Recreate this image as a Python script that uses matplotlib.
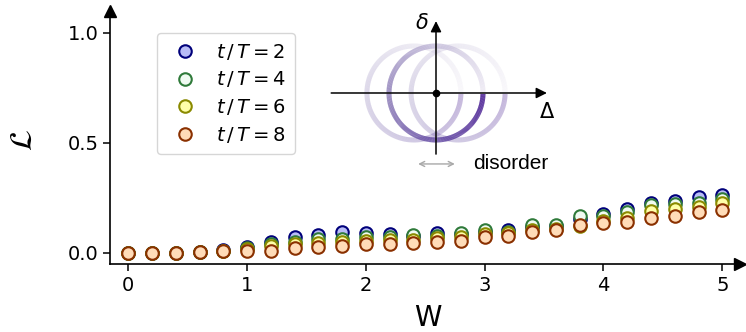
import numpy as np
import matplotlib
matplotlib.use("Agg")
import matplotlib.pyplot as plt
from matplotlib.collections import LineCollection
from matplotlib.colors import LinearSegmentedColormap

# disorder strength W and loss L for four evolution times
W = [0.0, 0.2, 0.4, 0.6, 0.8, 1.0, 1.2, 1.4, 1.6, 1.8, 2.0, 2.2, 2.4,
     2.6, 2.8, 3.0, 3.2, 3.4, 3.6, 3.8, 4.0, 4.2, 4.4, 4.6, 4.8, 5.0]
L_t2 = [0.0, 0.0, 0.0, 0.003, 0.013, 0.027, 0.048, 0.072, 0.080, 0.095, 0.088, 0.084, 0.075,
        0.088, 0.085, 0.095, 0.104, 0.115, 0.120, 0.155, 0.178, 0.198, 0.227, 0.235, 0.255, 0.262]
L_t4 = [0.0, 0.0, 0.0, 0.002, 0.010, 0.020, 0.038, 0.050, 0.061, 0.062, 0.073, 0.073, 0.080,
        0.078, 0.088, 0.103, 0.095, 0.126, 0.126, 0.166, 0.167, 0.184, 0.217, 0.220, 0.227, 0.243]
L_t6 = [0.0, 0.0, 0.0, 0.002, 0.008, 0.015, 0.030, 0.040, 0.045, 0.050, 0.055, 0.058, 0.060,
        0.065, 0.070, 0.085, 0.090, 0.105, 0.110, 0.120, 0.145, 0.160, 0.190, 0.200, 0.210, 0.224]
L_t8 = [0.0, 0.0, 0.0, 0.003, 0.008, 0.008, 0.010, 0.020, 0.025, 0.030, 0.040, 0.040, 0.046,
        0.050, 0.055, 0.070, 0.076, 0.093, 0.102, 0.125, 0.134, 0.140, 0.160, 0.167, 0.185, 0.195]

series = [L_t2, L_t4, L_t6, L_t8]
labels = [r"$t\,/\,T = 2$", r"$t\,/\,T = 4$", r"$t\,/\,T = 6$", r"$t\,/\,T = 8$"]
faces = ["#b8bcf6", "#f0fbf2", "#ffffa8", "#ffdcb8"]
edges = ["#00007a", "#2f7a3a", "#8a8a00", "#8a3000"]

xticks = [0, 1, 2, 3, 4, 5]
yticks = [0.0, 0.5, 1.0]
ytick_labels = ["0.0", "0.5", "1.0"]

fig = plt.figure(figsize=(7.46, 3.32), dpi=100)
ax = fig.add_axes([0.1481, 0.2057, 0.8440, 0.7621])

for vals, lab, fc, ec in zip(series, labels, faces, edges):
    ax.plot(W, vals, "o", ms=9, mfc=fc, mec=ec, mew=1.5, label=lab, clip_on=False)

ax.set_xlim(-0.15, 5.15)
ax.set_ylim(-0.05, 1.1)
ax.set_xticks(xticks)
ax.set_yticks(yticks)
ax.set_yticklabels(ytick_labels)
ax.tick_params(labelsize=14, length=5, width=1.1)
for s in ("top", "right"):
    ax.spines[s].set_visible(False)
for s in ("left", "bottom"):
    ax.spines[s].set_linewidth(1.2)

# arrowheads at the ends of the axes
ax.plot(1, 0, ">k", ms=8.5, transform=ax.transAxes, clip_on=False)
ax.plot(0, 1, "^k", ms=8.5, transform=ax.transAxes, clip_on=False)

ax.set_xlabel("W", fontsize=20)
ax.xaxis.set_label_coords(0.504, -0.16)
fig.text(23.5 / 746, 1 - 140 / 332, r"$\mathcal{L}$", fontsize=22,
         rotation=90, ha="center", va="center")

ax.legend(loc="upper left", bbox_to_anchor=(0.074, 0.912), borderaxespad=0,
          fontsize=14, handletextpad=0.6, labelspacing=0.4, borderpad=0.45)

# sketch: circular drive path in the (Delta, delta) plane, shifted by disorder
ins = fig.add_axes([325 / 746, 1 - 175 / 332, 240 / 746, 165 / 332])
ins.set_xlim(-2.362, 2.745)
ins.set_ylim(-1.745, 1.766)
ins.axis("off")

cmap = LinearSegmentedColormap.from_list(
    "drive", ["#eeeaf4", "#c4bcda", "#8a7ab6", "#5e44a0", "#3a0a8a"])
theta = np.linspace(0.02, 2 * np.pi - 0.02, 400)
frac = (theta[:-1] + theta[1:]) / (4 * np.pi)

def ring(x0, alpha, z):
    px = x0 + np.cos(theta)
    py = np.sin(theta)
    pts = np.column_stack([px, py]).reshape(-1, 1, 2)
    segs = np.concatenate([pts[:-1], pts[1:]], axis=1)
    lc = LineCollection(segs, colors=cmap(frac), linewidths=3.6, alpha=alpha,
                        capstyle="butt", zorder=z)
    ins.add_collection(lc)

ring(-0.47, 0.3, 1)
ring(0.47, 0.3, 1)
ring(0.0, 1.0, 2)

ins.annotate("", xy=(2.36, 0), xytext=(-2.23, 0),
             arrowprops=dict(arrowstyle="-|>", color="k", lw=1.1,
                             mutation_scale=16, shrinkA=0, shrinkB=0), zorder=3)
ins.annotate("", xy=(0, 1.53), xytext=(0, -1.30),
             arrowprops=dict(arrowstyle="-|>", color="k", lw=1.1,
                             mutation_scale=16, shrinkA=0, shrinkB=0), zorder=3)
ins.plot(0, 0, "o", color="k", ms=4.5, zorder=4)
ins.annotate("", xy=(0.40, -1.51), xytext=(-0.38, -1.51),
             arrowprops=dict(arrowstyle="<->", color="#a8a8a8", lw=1.0,
                             mutation_scale=9, shrinkA=0, shrinkB=0))
ins.text(-0.30, 1.49, r"$\delta$", fontsize=15, ha="center", va="center")
ins.text(2.36, -0.40, r"$\Delta$", fontsize=15, ha="center", va="center")
ins.text(0.78, -1.49, "disorder", fontsize=15, family="Liberation Sans",
         ha="left", va="center")

fig.savefig("out.png", dpi=100)
